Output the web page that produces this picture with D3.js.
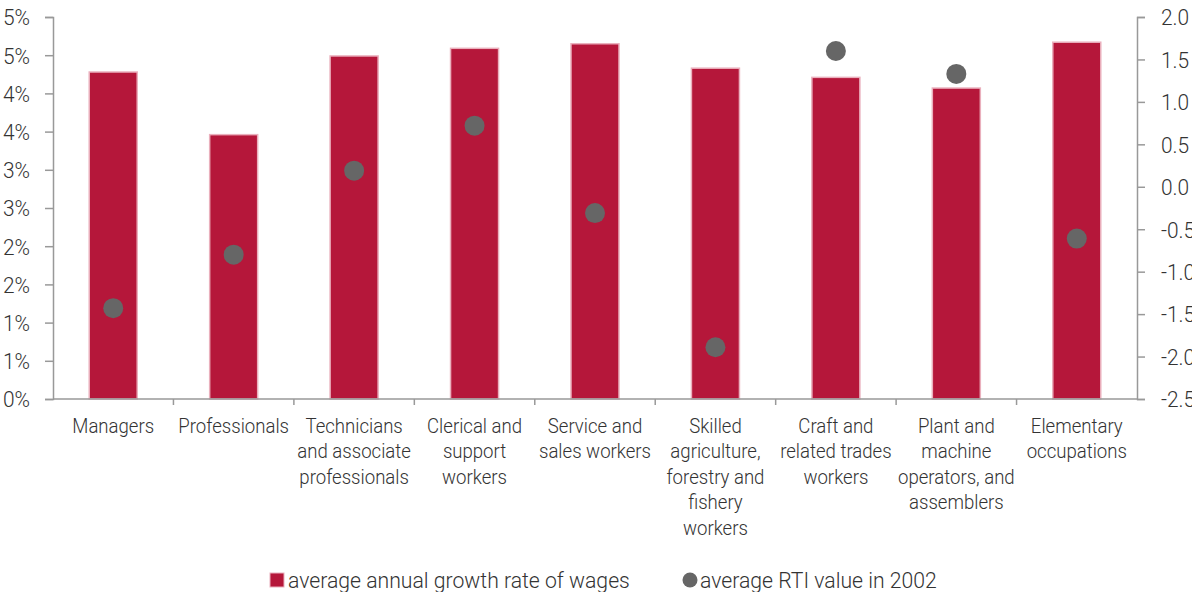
<!DOCTYPE html>
<html>
<head>
<meta charset="utf-8">
<script src="https://cdn.jsdelivr.net/npm/d3@7"></script>
<style>
  body { margin: 0; background: #fff; }
  svg text { font-family: Roboto, "Noto Sans", sans-serif; font-weight: 300; fill: #333; }
</style>
</head>
<body>
<svg id="chart" width="1192" height="592"></svg>
<script>
// data
var categories = [
  ["Managers"],
  ["Professionals"],
  ["Technicians", "and associate", "professionals"],
  ["Clerical and", "support", "workers"],
  ["Service and", "sales workers"],
  ["Skilled", "agriculture,", "forestry and", "fishery", "workers"],
  ["Craft and", "related trades", "workers"],
  ["Plant and", "machine", "operators, and", "assemblers"],
  ["Elementary", "occupations"]
];
var wageGrowth = [4.28, 3.46, 4.49, 4.59, 4.65, 4.33, 4.21, 4.07, 4.67];   // %
var rti2002 = [-1.43, -0.80, 0.19, 0.72, -0.31, -1.89, 1.60, 1.33, -0.61];
var leftTicks = [0, 0.5, 1, 1.5, 2, 2.5, 3, 3.5, 4, 4.5, 5];
var rightTicks = [-2.5, -2, -1.5, -1, -0.5, 0, 0.5, 1, 1.5, 2];
var legendLabels = ["average annual growth rate of wages", "average RTI value in 2002"];

var svg = d3.select("#chart");
var plotLeft = 53, plotRight = 1137, plotTop = 17, plotBottom = 399;
var squeeze = 0.93; // condensed look

var band = d3.scaleBand().domain(d3.range(categories.length)).range([plotLeft, plotRight]);
var yL = d3.scaleLinear().domain([0, 5]).range([plotBottom, plotTop]);
var yR = d3.scaleLinear().domain([-2.5, 2]).range([plotBottom, plotTop]);

// bars
svg.append("g").selectAll("rect").data(wageGrowth).join("rect")
  .attr("x", (d, i) => band(i) + band.bandwidth() / 2 - 24)
  .attr("width", 48)
  .attr("y", d => yL(d))
  .attr("height", d => yL(0) - yL(d))
  .attr("fill", "#b5173a")
  .attr("stroke", "#eab0bd")
  .attr("stroke-width", 1.5);

// dots
svg.append("g").selectAll("circle").data(rti2002).join("circle")
  .attr("cx", (d, i) => band(i) + band.bandwidth() / 2)
  .attr("cy", d => yR(d))
  .attr("r", 10)
  .attr("fill", "#666");

// axes
function styleAxis(g) {
  g.selectAll("path, line").attr("stroke", "#999").attr("stroke-width", 1.5);
  g.selectAll("text").attr("font-size", 22.5).attr("fill", "#333");
}

var gl = svg.append("g").attr("transform", "translate(" + plotLeft + ",0)")
  .call(d3.axisLeft(yL).tickValues(leftTicks).tickSize(8).tickSizeOuter(8)
    .tickFormat(d => Math.round(d) + "%"))
  .call(styleAxis);
gl.selectAll(".tick text").attr("dy", "0.35em")
  .attr("transform", "scale(" + squeeze + ",1)").attr("x", -23 / squeeze);

var gr = svg.append("g").attr("transform", "translate(" + plotRight + ",0)")
  .call(d3.axisRight(yR).tickValues(rightTicks).tickSize(8).tickSizeOuter(8)
    .tickFormat(d => d3.format(".1f")(d).replace("−", "-")))
  .call(styleAxis);
gr.selectAll(".tick text").attr("dy", "0.35em")
  .attr("transform", "scale(" + squeeze + ",1)").attr("x", 24 / squeeze);

// bottom axis with ticks at category boundaries
var gb = svg.append("g");
gb.append("line").attr("x1", plotLeft).attr("x2", plotRight).attr("y1", plotBottom).attr("y2", plotBottom)
  .attr("stroke", "#999").attr("stroke-width", 1.5);
gb.selectAll("line.tk").data(d3.range(1, categories.length)).join("line")
  .attr("class", "tk")
  .attr("x1", i => band(i)).attr("x2", i => band(i))
  .attr("y1", plotBottom).attr("y2", plotBottom + 6)
  .attr("stroke", "#999").attr("stroke-width", 1.5);

var labels = gb.selectAll("g.lab").data(categories).join("g")
  .attr("class", "lab")
  .attr("transform", (d, i) => "translate(" + (band(i) + band.bandwidth() / 2) + ",433) scale(" + squeeze + ",1)");
labels.selectAll("text").data(d => d).join("text")
  .attr("text-anchor", "middle")
  .attr("font-size", 20)
  .attr("y", (d, j) => j * 25.5)
  .text(d => d);

// legend
var lg = svg.append("g").attr("transform", "translate(0,580)");
lg.append("rect").attr("x", 270).attr("y", -7).attr("width", 14).attr("height", 14)
  .attr("fill", "#b5173a").attr("stroke", "#eab0bd").attr("stroke-width", 1);
lg.append("text").attr("transform", "translate(288,0) scale(" + squeeze + ",1)")
  .attr("dy", "0.33em").attr("font-size", 22.8).text(legendLabels[0]);
lg.append("circle").attr("cx", 690).attr("cy", 0).attr("r", 7.5).attr("fill", "#666");
lg.append("text").attr("transform", "translate(700,0) scale(" + squeeze + ",1)")
  .attr("dy", "0.33em").attr("font-size", 22.8).text(legendLabels[1]);
</script>
</body>
</html>
